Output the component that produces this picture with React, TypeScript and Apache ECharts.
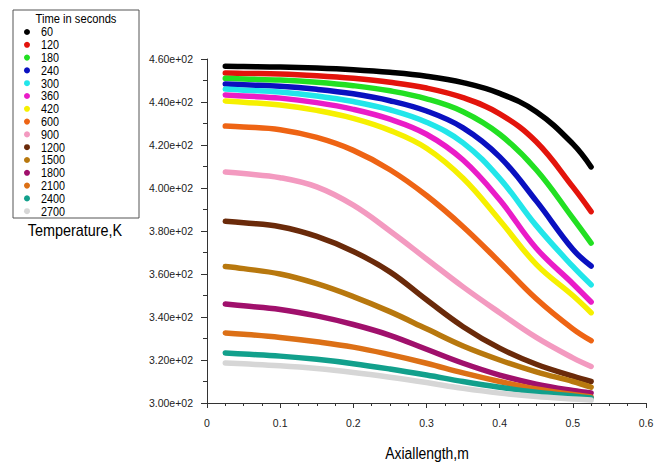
import React, { useEffect, useRef } from "react";
import * as echarts from "echarts";

const xPositions = [0.025, 0.05, 0.1, 0.15, 0.2, 0.25, 0.3, 0.35, 0.4, 0.45, 0.5, 0.525];
const timeLabels = ["60", "120", "180", "240", "300", "360", "420", "600", "900", "1200", "1500", "1800", "2100", "2400", "2700"];
const colors = ["#000000", "#e3140c", "#22e022", "#0a10c0", "#22e6ea", "#ea1cc8", "#f6f000", "#ee6414", "#f39ac0", "#6a2a0a", "#b8780e", "#a0106c", "#dc7016", "#12a08c", "#d6d6d6"];

const t60 = [456.6, 456.5, 456.3, 455.8, 455, 453.8, 452, 449, 444, 435.5, 420.5, 409.8];
const t120 = [453.5, 453.3, 453, 452.2, 451, 449.2, 446.5, 442, 434.5, 421.5, 400.5, 389];
const t180 = [451, 450.7, 450.2, 449.2, 447.6, 445.2, 441.5, 435.5, 425, 408.5, 386, 374.4];
const t240 = [448.4, 448, 447.3, 445.9, 443.8, 440.6, 435.8, 428, 414.5, 394, 371.5, 363.7];
const t300 = [446, 445.5, 444.6, 442.8, 440.2, 436.4, 430.6, 421, 404.5, 382.5, 363.5, 355];
const t360 = [443.3, 442.8, 441.8, 439.7, 436.6, 432, 425, 413, 394.5, 372, 355.5, 347];
const t420 = [440.5, 439.9, 438.6, 436.1, 432.4, 426.8, 418.5, 404.5, 385, 364.5, 350, 342];
const t600 = [428.8, 428.4, 427.1, 423.5, 417.5, 408.5, 396.5, 382, 365.5, 348.5, 334.5, 329];
const t900 = [407.4, 406.7, 404.8, 400.5, 392, 380, 367, 354, 342, 330.5, 321, 317];
const t1200 = [384.5, 383.8, 382, 377.5, 370.5, 361, 348, 335.5, 325.5, 318, 312.5, 310];
const t1500 = [363.5, 362.5, 360, 355.5, 349.5, 342.5, 334.5, 326.5, 320, 314.5, 310, 307.4];
const t1800 = [346, 345.2, 343.5, 340.5, 336.5, 331.5, 325, 318.5, 313, 308.8, 305.8, 304.7];
const t2100 = [332.6, 332, 330.5, 328.5, 326, 322.5, 318.5, 314, 310, 306.5, 304, 302.8];
const t2400 = [323.3, 322.8, 321.8, 320.3, 318.3, 315.8, 313, 310, 307.3, 305, 303.3, 302.3];
const t2700 = [318.6, 318.2, 317.3, 316, 314.2, 312, 309.5, 306.8, 304.6, 303, 301.9, 301.4];

const seriesValues = [t60, t120, t180, t240, t300, t360, t420, t600, t900, t1200, t1500, t1800, t2100, t2400, t2700];

const FONT = "'Liberation Sans', Arial, sans-serif";

export default function App() {
  const ref = useRef<HTMLDivElement>(null);
  useEffect(() => {
    if (!ref.current) return;
    const chart = echarts.init(ref.current, null, { renderer: "svg" });
    const series = seriesValues.map((vals, i) => ({
      name: timeLabels[i],
      type: "line",
      data: vals.map((v, j) => [xPositions[j], v]),
      smooth: 0.4,
      symbol: "none",
      lineStyle: { width: 5.5, color: colors[i], cap: "round", join: "round" },
      itemStyle: { color: colors[i] },
      z: 2 + i,
    }));
    const legendItems: any[] = [];
    timeLabels.forEach((lab, i) => {
      const cy = 32 + 12.8 * i;
      legendItems.push({
        type: "circle",
        shape: { cx: 27, cy, r: 3 },
        style: { fill: colors[i] },
        silent: true,
      });
      legendItems.push({
        type: "text",
        x: 41,
        y: cy,
        scaleX: 0.8,
        style: {
          text: lab,
          fontFamily: FONT,
          fontSize: 13.5,
          fill: "#000",
          textAlign: "left",
          textVerticalAlign: "middle",
        },
        silent: true,
      });
    });
    chart.setOption({
      animation: false,
      backgroundColor: "#ffffff",
      grid: { left: 207, right: 16, top: 59, bottom: 59, containLabel: false },
      xAxis: {
        type: "value",
        min: 0,
        max: 0.6,
        interval: 0.1,
        axisLine: { lineStyle: { color: "#333", width: 1 } },
        axisTick: { show: true, length: 5, lineStyle: { color: "#333" } },
        minorTick: { show: true, splitNumber: 4, length: 3, lineStyle: { color: "#333" } },
        splitLine: { show: false },
        axisLabel: {
          fontFamily: FONT,
          fontSize: 10.5,
          color: "#222",
          margin: 14,
          formatter: (v: number) => (Math.round(v * 10) / 10).toString(),
        },
      },
      yAxis: {
        type: "value",
        min: 300,
        max: 460,
        interval: 20,
        axisLine: { show: true, lineStyle: { color: "#333", width: 1 } },
        axisTick: { show: true, length: 6, lineStyle: { color: "#333" } },
        minorTick: { show: true, splitNumber: 2, length: 4, lineStyle: { color: "#333" } },
        splitLine: { show: false },
        axisLabel: {
          fontFamily: FONT,
          fontSize: 10.5,
          color: "#222",
          margin: 14,
          formatter: (v: number) => (v / 100).toFixed(2) + "e+02",
        },
      },
      graphic: [
        {
          type: "rect",
          shape: { x: 13, y: 10, width: 126, height: 208 },
          style: { fill: "none", stroke: "#555", lineWidth: 1 },
          silent: true,
        },
        {
          type: "text",
          x: 76,
          y: 18.5,
          scaleX: 0.86,
          style: {
            text: "Time in seconds",
            fontFamily: FONT,
            fontSize: 13,
            fill: "#000",
            textAlign: "center",
            textVerticalAlign: "middle",
          },
        },
        ...legendItems,
        {
          type: "text",
          x: 75,
          y: 230,
          scaleX: 0.9,
          style: {
            text: "Temperature,K",
            fontFamily: FONT,
            fontSize: 16,
            fill: "#000",
            textAlign: "center",
            textVerticalAlign: "middle",
          },
        },
        {
          type: "text",
          x: 427,
          y: 453,
          scaleX: 0.87,
          style: {
            text: "Axiallength,m",
            fontFamily: FONT,
            fontSize: 16,
            fill: "#000",
            textAlign: "center",
            textVerticalAlign: "middle",
          },
        },
      ],
      series,
    });
    return () => chart.dispose();
  }, []);
  return <div ref={ref} style={{ width: 662, height: 462, position: "absolute", left: 0, top: 0 }} />;
}
